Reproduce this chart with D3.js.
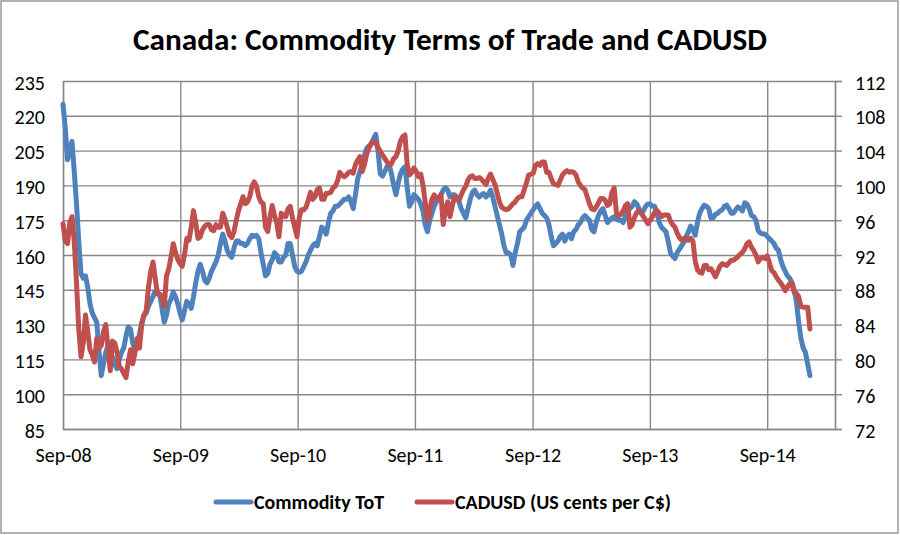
<!DOCTYPE html>
<html>
<head>
<meta charset="utf-8">
<script src="https://cdn.jsdelivr.net/npm/d3@7"></script>
<style>
  body { margin: 0; background: #fff; }
  text { font-family: Carlito, Lato, "Open Sans", sans-serif; fill: #000; }
</style>
</head>
<body>
<svg width="900" height="535"></svg>
<script>
// weekly series, first observation in the week of 1 Sep 2008
const firstWeek = "2008-09-01";
const xTicks = ["2008-09-01", "2009-09-01", "2010-09-01", "2011-09-01", "2012-09-01", "2013-09-01", "2014-09-01"];
const leftTicks = [85, 100, 115, 130, 145, 160, 175, 190, 205, 220, 235];
const rightTicks = [72, 76, 80, 84, 88, 92, 96, 100, 104, 108, 112];
const seriesNames = ["Commodity ToT", "CADUSD (US cents per C$)"];
const title = "Canada: Commodity Terms of Trade and CADUSD";

// Commodity terms of trade index (left axis)
const totValues = [
  225, 215, 201, 205, 209, 196, 182, 166, 152, 150, 151, 146, 139, 135, 133, 131, 119, 108, 113,
  118, 121, 117, 116, 113, 111, 115, 118, 120, 125, 129, 128, 122, 119, 122, 126, 131, 134, 135, 138,
  140, 142, 144.5, 144, 143, 137, 131, 134, 139, 141, 144, 142, 139, 135, 132, 136, 140, 139, 137, 142,
  148, 153, 156, 153, 149, 148, 150, 153, 155, 157, 160, 165, 169, 166, 162, 160, 159, 163, 166, 166,
  165, 165, 164, 165, 167, 168.5, 168, 168.5, 167, 161, 156, 151, 152, 156, 158, 161, 160, 157, 157, 159,
  160, 165, 165, 160, 155, 153, 152.5, 153, 155, 157, 160, 162, 164, 165, 164, 168, 172, 171, 169, 174,
  178, 179, 181, 181, 182, 183, 184, 184, 185, 183, 180, 186, 193, 196, 199, 203, 206, 207, 208, 210,
  212, 205, 195, 194, 196, 198, 199, 195, 190, 186, 191, 195, 197, 198, 189, 181, 183, 186, 185, 184,
  182, 179, 173, 170, 175, 178, 181, 183, 184.5, 186, 188, 189, 188, 185, 186, 186, 185, 183, 180, 178,
  176, 180, 184, 187, 188, 186, 185, 186, 186.5, 185, 186, 188, 185, 181, 177, 173, 169, 164, 161, 161,
  160, 155.5, 161, 165, 170, 171, 172, 175, 176.5, 178, 179.5, 181, 182, 180, 178, 177, 176, 173, 168, 164,
  165, 166, 168, 169, 166, 168, 169, 167, 170, 171, 173, 174, 176, 177, 176, 175, 171, 170, 174, 177,
  179, 180, 177, 174, 175, 176, 176.5, 175.5, 175, 175, 174, 177, 179.5, 180, 181, 183, 182, 180, 178, 179,
  181, 182, 182, 181, 181, 178, 174, 172, 171, 170, 166, 161, 159.5, 158.5, 161, 162.5, 164, 165.5, 168, 170,
  172.5, 171, 168.5, 174, 178, 180, 181.5, 181, 180, 176, 176, 177.5, 178, 179, 179.5, 181, 181.5, 180, 178, 178,
  179.5, 180.7, 180, 179, 182.5, 182, 180, 177, 176.5, 175, 170.5, 169.5, 169, 169, 168, 167, 166, 165, 163, 162,
  158, 155, 153, 151, 150, 148, 145, 140, 131, 124, 120, 118, 113, 108
];

// CADUSD, US cents per C$ (right axis)
const cadValues = [
  95.6, 93.6, 93.3, 95.7, 96.4, 93.6, 88.8, 83.5, 80.3, 81.9, 85.1, 83.2, 81.1, 80.5, 79.7, 82.4, 81.3, 81.6, 83.2,
  84.0, 81.3, 78.7, 82.1, 81.9, 80.8, 79.2, 78.9, 78.4, 77.9, 79.7, 81.1, 79.5, 80.8, 82.4, 81.3, 84.0, 85.1, 85.6, 88.3,
  90.1, 91.2, 89.3, 87.5, 87.5, 87.2, 86.1, 89.6, 90.4, 91.7, 93.3, 92.3, 91.5, 91.0, 90.7, 92.0, 93.9, 93.7, 95.2, 97.1,
  95.7, 93.9, 94.1, 94.9, 95.3, 95.5, 95.5, 94.9, 94.8, 95.5, 95.2, 95.2, 96.8, 96.1, 95.2, 94.3, 94.0, 94.7, 96.0, 97.1,
  97.9, 98.7, 97.9, 98.1, 98.7, 99.9, 100.4, 99.9, 98.7, 98.1, 97.9, 95.2, 94.7, 96.4, 97.7, 96.5, 95.7, 94.1, 96.8, 96.5,
  96.4, 97.3, 97.6, 96.3, 95.2, 94.1, 96.3, 97.2, 97.2, 97.5, 98.3, 99.2, 98.4, 98.7, 99.5, 99.7, 98.4, 98.4, 99.1, 99.1,
  99.2, 99.7, 99.9, 100.5, 101.5, 101.2, 101.0, 101.2, 101.5, 101.6, 101.4, 102.4, 102.9, 103.3, 101.6, 102.4, 103.6, 104.3, 104.8, 105.1,
  104.9, 104.4, 103.9, 103.5, 103.1, 102.7, 102.3, 102.5, 103.1, 103.3, 104.0, 105.1, 105.6, 105.8, 102.4, 101.2, 101.5, 102.0, 101.6, 101.0,
  101.3, 100.0, 98.1, 96.0, 97.1, 98.4, 98.9, 98.5, 98.4, 98.9, 95.5, 97.3, 98.1, 96.4, 97.6, 98.7, 98.4, 98.3, 98.9, 99.5,
  99.9, 100.6, 101.0, 101.1, 100.8, 100.8, 100.9, 100.7, 100.4, 100.1, 100.8, 101.3, 100.7, 100.1, 99.1, 98.1, 97.5, 97.3, 97.2, 97.3,
  97.6, 97.9, 98.1, 98.5, 98.7, 98.7, 99.5, 100.3, 101.2, 101.3, 101.4, 102.3, 102.5, 102.3, 102.7, 102.7, 101.5, 101.5, 100.8, 100.2,
  100.1, 100.0, 100.6, 101.2, 101.5, 101.7, 101.5, 101.6, 101.5, 101.2, 100.4, 100.0, 99.7, 99.5, 98.7, 97.9, 97.3, 97.2, 97.5, 98.0,
  98.5, 98.5, 98.3, 97.7, 97.9, 99.2, 99.7, 96.8, 96.5, 96.7, 97.1, 97.7, 97.9, 95.2, 95.5, 96.3, 96.9, 97.1, 96.8, 96.4,
  96.0, 95.6, 96.0, 96.4, 96.9, 97.1, 96.8, 96.4, 96.6, 96.6, 96.6, 95.9, 95.5, 95.2, 94.5, 94.0, 93.7, 93.9, 93.9, 93.7,
  93.9, 93.6, 91.3, 90.3, 90.0, 89.9, 90.8, 90.8, 90.3, 90.4, 90.0, 89.5, 90.1, 90.7, 91.0, 90.9, 90.8, 91.1, 91.4, 91.4,
  91.6, 91.8, 92.1, 92.3, 92.7, 93.3, 93.5, 92.9, 92.5, 92.0, 91.2, 91.6, 91.7, 91.6, 91.9, 91.1, 90.2, 90.0, 89.5, 89.1,
  88.8, 88.4, 87.9, 88.3, 88.7, 88.8, 87.7, 87.6, 87.2, 86.1, 86.0, 86.0, 86.0, 83.5
];

const svg = d3.select('svg');
const W = +svg.attr('width');
const H = +svg.attr('height');
const margin = { top: 81, left: 63, right: 65, bottom: 106 };
const innerW = W - margin.left - margin.right;
const innerH = H - margin.top - margin.bottom;
const parse = d3.timeParse('%Y-%m-%d');
const start = parse(firstWeek);

const toSeries = vals => vals.map((v, i) => ({ date: d3.timeDay.offset(start, 7 * i), value: v }));
const tot = toSeries(totValues);
const cad = toSeries(cadValues);

// chart frame
svg.append('rect')
  .attr('x', 1).attr('y', 1).attr('width', W - 3).attr('height', H - 3)
  .attr('fill', '#fff').attr('stroke', '#8a8a8a').attr('stroke-width', 1.3);

const x = d3.scaleTime()
  .domain([start, parse('2015-03-31')])
  .range([0, innerW]);
const yL = d3.scaleLinear().domain([85, 235]).range([innerH, 0]);
const yR = d3.scaleLinear().domain([72, 112]).range([innerH, 0]);

const g = svg.append('g').attr('transform', `translate(${margin.left}, ${margin.top})`);
const gridColor = '#888888';
const tickFont = 20;

// horizontal gridlines + left labels
const yAxisL = g.append('g').call(d3.axisLeft(yL).tickValues(leftTicks).tickSize(-innerW).tickPadding(18));
yAxisL.select('.domain').remove();
yAxisL.selectAll('line').attr('stroke', gridColor).attr('stroke-width', 1.4);
yAxisL.selectAll('text').attr('font-size', tickFont).attr('dy', 8);

// vertical gridlines + date labels
const xAxis = g.append('g')
  .attr('transform', `translate(0, ${innerH})`)
  .call(d3.axisBottom(x).tickValues(xTicks.map(parse)).tickFormat(d3.timeFormat('%b-%y'))
    .tickSize(-innerH).tickPadding(19));
xAxis.select('.domain').attr('stroke', gridColor).attr('stroke-width', 1.4);
xAxis.selectAll('line').attr('stroke', gridColor).attr('stroke-width', 1.4);
xAxis.selectAll('text').attr('font-size', tickFont);

// right axis
const yAxisR = g.append('g')
  .attr('transform', `translate(${innerW}, 0)`)
  .call(d3.axisRight(yR).tickValues(rightTicks).tickSize(7).tickPadding(13));
yAxisR.select('.domain').attr('stroke', gridColor).attr('stroke-width', 1.4);
yAxisR.selectAll('line').attr('stroke', gridColor).attr('stroke-width', 1.4);
yAxisR.selectAll('text').attr('font-size', tickFont).attr('dy', 8);

// lines
const lineL = d3.line().x(d => x(d.date)).y(d => yL(d.value));
const lineR = d3.line().x(d => x(d.date)).y(d => yR(d.value));

g.append('path').datum(tot)
  .attr('d', lineL)
  .attr('fill', 'none').attr('stroke', '#4f81bd').attr('stroke-width', 5)
  .attr('stroke-linejoin', 'round').attr('stroke-linecap', 'round');

g.append('path').datum(cad)
  .attr('d', lineR)
  .attr('fill', 'none').attr('stroke', '#c0504d').attr('stroke-width', 5)
  .attr('stroke-linejoin', 'round').attr('stroke-linecap', 'round');

// title
svg.append('text')
  .attr('x', 450).attr('y', 50)
  .attr('text-anchor', 'middle')
  .attr('font-size', 30).attr('font-weight', 'bold')
  .attr('textLength', 634).attr('lengthAdjust', 'spacingAndGlyphs')
  .text(title);

// legend
const legend = svg.append('g').attr('transform', 'translate(215, 502)');
const legendItems = [
  { name: seriesNames[0], color: '#4f81bd', dx: 0 },
  { name: seriesNames[1], color: '#c0504d', dx: 201 }
];
const li = legend.selectAll('g').data(legendItems).enter().append('g')
  .attr('transform', d => `translate(${d.dx}, 0)`);
li.append('line')
  .attr('x1', 1).attr('x2', 36).attr('y1', 0).attr('y2', 0)
  .attr('stroke', d => d.color).attr('stroke-width', 5).attr('stroke-linecap', 'round');
li.append('text')
  .attr('x', 39).attr('y', 7)
  .attr('font-size', 20).attr('font-weight', 'bold')
  .text(d => d.name);
</script>
</body>
</html>
